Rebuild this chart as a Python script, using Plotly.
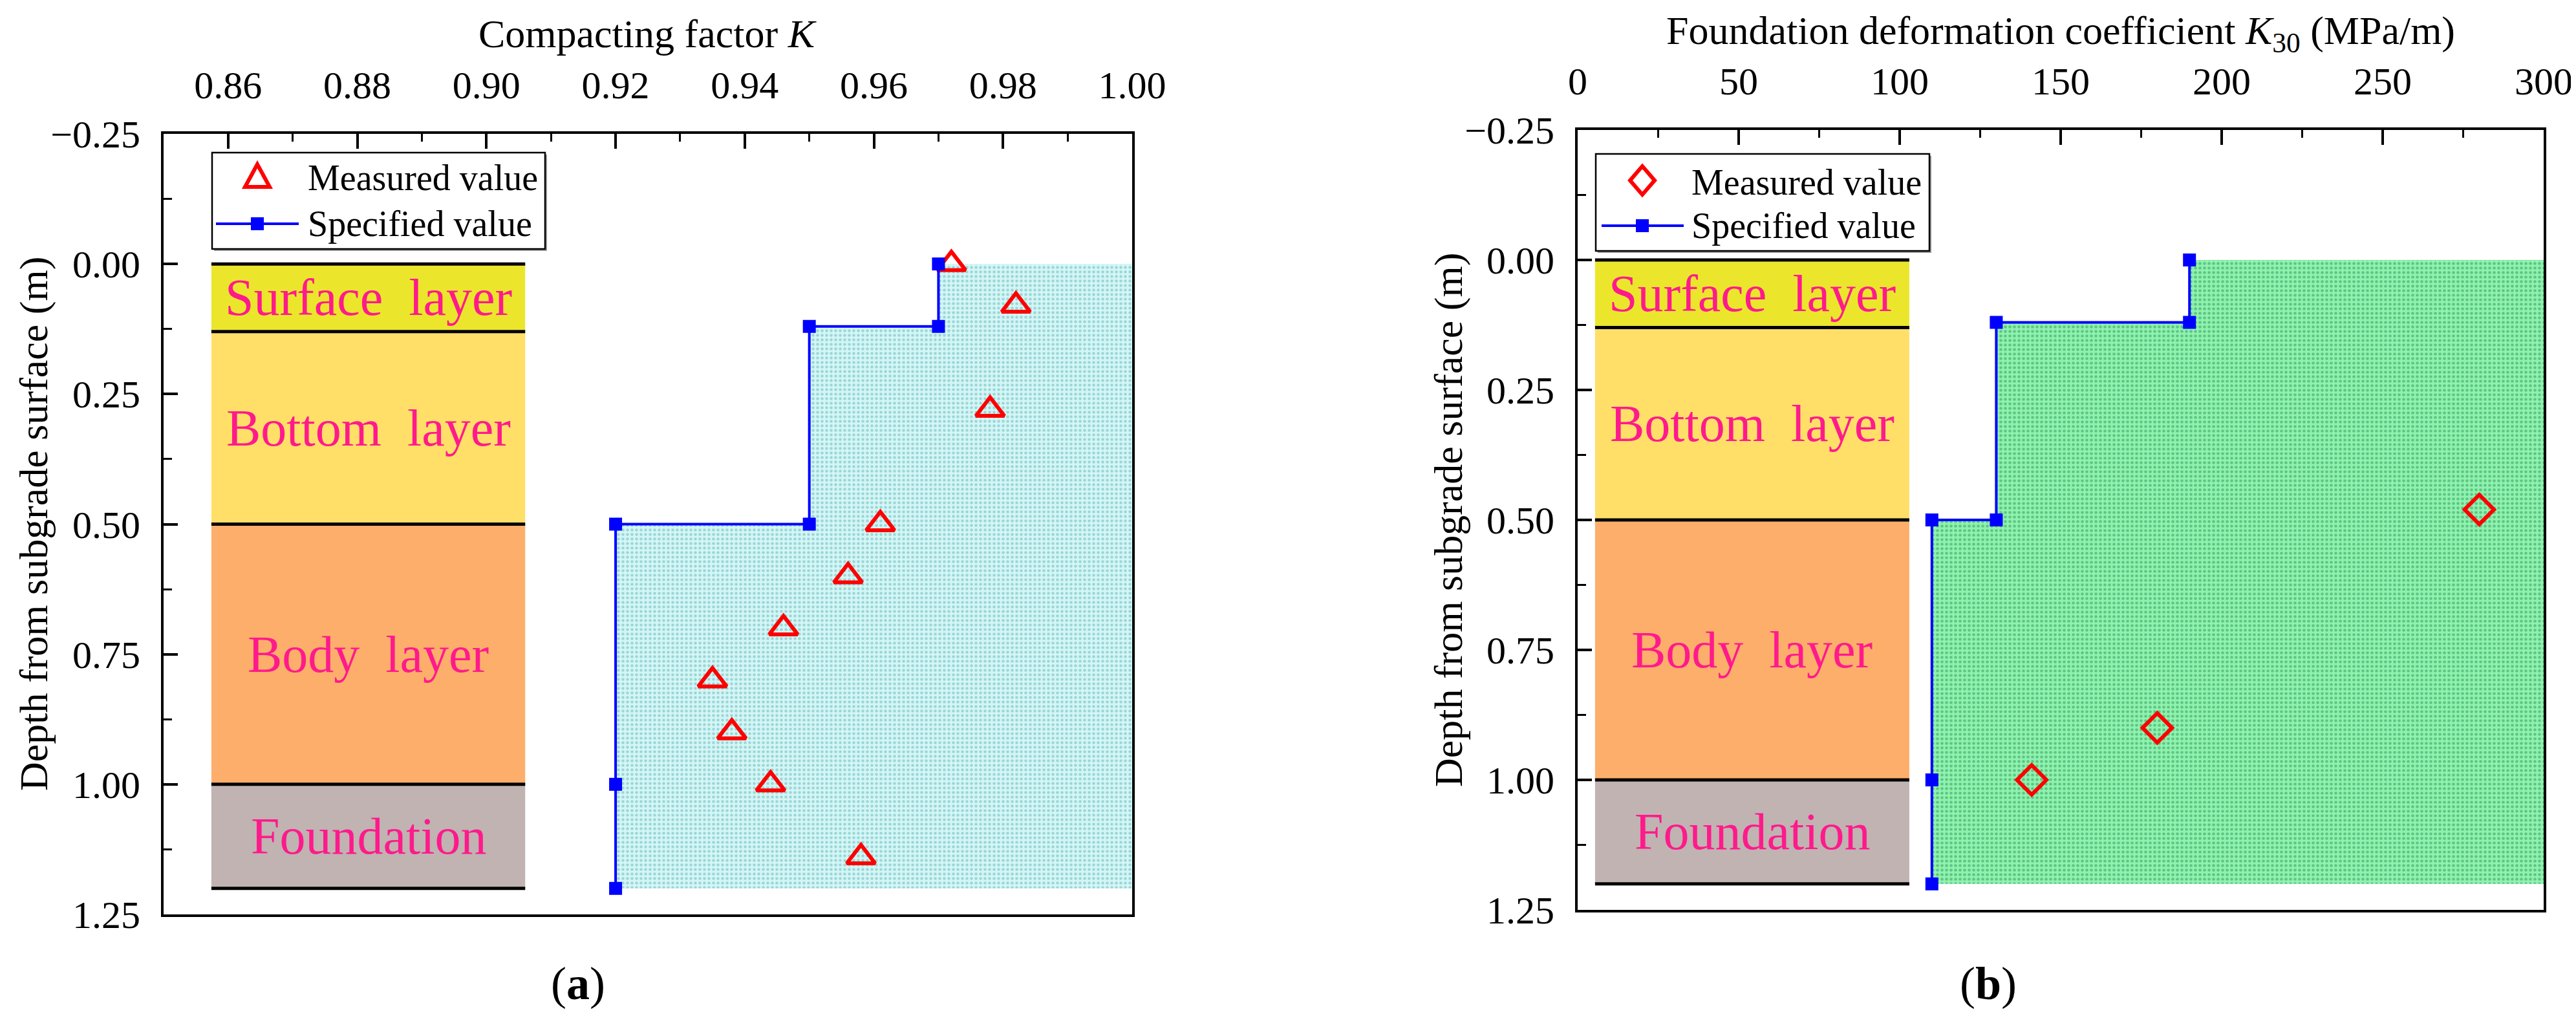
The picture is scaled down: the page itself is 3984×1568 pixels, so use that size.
import plotly.graph_objects as go

# ---------------- data ----------------
layer_names = ["Surface&nbsp; layer", "Bottom&nbsp; layer", "Body&nbsp; layer", "Foundation"]
layer_top = [0.00, 0.13, 0.50, 1.00]
layer_bottom = [0.13, 0.50, 1.00, 1.20]
layer_colors = ["#EBE62B", "#FFDF68", "#FDAE6B", "#C0B3B1"]

k_depth = [0.00, 0.08, 0.28, 0.50, 0.60, 0.70, 0.80, 0.90, 1.00, 1.14]
k_measured = [0.972, 0.982, 0.978, 0.961, 0.956, 0.946, 0.935, 0.938, 0.944, 0.958]
k_spec_depth = [0.00, 0.12, 0.12, 0.50, 0.50, 1.00, 1.20]
k_spec = [0.97, 0.97, 0.95, 0.95, 0.92, 0.92, 0.92]

k30_depth = [0.48, 0.90, 1.00]
k30_measured = [280, 180, 141]
k30_spec_depth = [0.00, 0.12, 0.12, 0.50, 0.50, 1.00, 1.20]
k30_spec = [190, 190, 130, 130, 110, 110, 110]

k_ticks = [0.86, 0.88, 0.90, 0.92, 0.94, 0.96, 0.98, 1.00]
k_ticktext = ["0.86", "0.88", "0.90", "0.92", "0.94", "0.96", "0.98", "1.00"]
k30_ticks = [0, 50, 100, 150, 200, 250, 300]
k30_ticktext = ["0", "50", "100", "150", "200", "250", "300"]
depth_ticks = [-0.25, 0.00, 0.25, 0.50, 0.75, 1.00, 1.25]
depth_ticktext = ["\u22120.25", "0.00", "0.25", "0.50", "0.75", "1.00", "1.25"]
legend_labels = ["Measured value", "Specified value"]

K_RANGE = [0.85, 1.00]
K30_RANGE = [0, 300]
DEPTH_RANGE = [1.25, -0.25]

FONT = "Liberation Serif"
W, H = 3984, 1568
RED, BLUE = "#FF0000", "#0000FF"


def px(x, y):
    """pixel position (from top-left) -> paper coordinates"""
    return x / W, 1 - y / H


fig = go.Figure()

# ---------- panel (a) ----------
fig.add_trace(go.Scatter(
    x=k_spec + [K_RANGE[1], K_RANGE[1]],
    y=k_spec_depth + [k_spec_depth[-1], k_spec_depth[0]],
    fill="toself", mode="lines", line=dict(width=0),
    fillcolor="#D4F6F6",
    fillpattern=dict(shape=".", bgcolor="#D4F6F6", fgcolor="#9CD6D6", size=7, solidity=0.33),
    showlegend=False, hoverinfo="skip", xaxis="x", yaxis="y"))
fig.add_trace(go.Scatter(
    x=k_measured, y=k_depth, mode="markers", name=legend_labels[0],
    marker=dict(symbol="triangle-up-open", size=38, color=RED, line=dict(width=6, color=RED)),
    xaxis="x", yaxis="y", showlegend=False))
fig.add_trace(go.Scatter(
    x=k_spec, y=k_spec_depth, mode="lines+markers", name=legend_labels[1],
    line=dict(color=BLUE, width=4),
    marker=dict(symbol="square", size=20, color=BLUE),
    xaxis="x", yaxis="y", showlegend=False))

# ---------- panel (b) ----------
fig.add_trace(go.Scatter(
    x=k30_spec + [K30_RANGE[1], K30_RANGE[1]],
    y=k30_spec_depth + [k30_spec_depth[-1], k30_spec_depth[0]],
    fill="toself", mode="lines", line=dict(width=0),
    fillcolor="#8FF3AF",
    fillpattern=dict(shape=".", bgcolor="#8FF3AF", fgcolor="#5EC583", size=7, solidity=0.35),
    showlegend=False, hoverinfo="skip", xaxis="x2", yaxis="y2"))
fig.add_trace(go.Scatter(
    x=k30_measured, y=k30_depth, mode="markers", name=legend_labels[0],
    marker=dict(symbol="diamond-open", size=35, color=RED, line=dict(width=6, color=RED)),
    xaxis="x2", yaxis="y2", showlegend=False))
fig.add_trace(go.Scatter(
    x=k30_spec, y=k30_spec_depth, mode="lines+markers", name=legend_labels[1],
    line=dict(color=BLUE, width=4),
    marker=dict(symbol="square", size=20, color=BLUE),
    xaxis="x2", yaxis="y2", showlegend=False))

# ---------- layer columns ----------
shapes = []
annotations = []
box_x = {"x": (0.8574, 0.906), "x2": (5.4, 103.0)}
for xr, yr in (("x", "y"), ("x2", "y2")):
    x0, x1 = box_x[xr]
    for name, top, bot, col in zip(layer_names, layer_top, layer_bottom, layer_colors):
        shapes.append(dict(type="rect", xref=xr, yref=yr, x0=x0, x1=x1, y0=top, y1=bot,
                           fillcolor=col, line=dict(width=0), layer="below"))
        annotations.append(dict(xref=xr, yref=yr, x=(x0 + x1) / 2, y=(top + bot) / 2,
                                xanchor="center", yanchor="middle",
                                text=name, showarrow=False,
                                font=dict(family=FONT, size=80, color="#FF1A8C")))
    for d in layer_top + [layer_bottom[-1]]:
        shapes.append(dict(type="line", xref=xr, yref=yr, x0=x0, x1=x1, y0=d, y1=d,
                           line=dict(color="black", width=5)))


# ---------- hand-drawn legends (so that symbols keep their plotted size) ----------
def legend_box(left, top, right, bottom, cx, y1, y2, line_x0, line_x1, text_x, symbol):
    bx0, by1 = px(left, top)
    bx1, by0 = px(right, bottom)
    shapes.append(dict(type="rect", xref="paper", yref="paper", x0=bx0 + 3 / W, x1=bx1 + 3 / W,
                       y0=by0 - 3 / H, y1=by1 - 3 / H, fillcolor="#9A9A9A", line=dict(width=0)))
    shapes.append(dict(type="rect", xref="paper", yref="paper", x0=bx0, x1=bx1, y0=by0, y1=by1,
                       fillcolor="white", line=dict(color="black", width=2.5)))
    if symbol == "triangle":
        path = "M {} {} L {} {} L {} {} Z".format(
            *px(cx - 19, y1 + 17), *px(cx + 19, y1 + 17), *px(cx, y1 - 18))
    else:
        path = "M {} {} L {} {} L {} {} L {} {} Z".format(
            *px(cx, y1 - 22), *px(cx + 19, y1), *px(cx, y1 + 22), *px(cx - 19, y1))
    shapes.append(dict(type="path", xref="paper", yref="paper", path=path,
                       line=dict(color=RED, width=6), fillcolor="white"))
    lx0, ly = px(line_x0, y2)
    lx1, _ = px(line_x1, y2)
    shapes.append(dict(type="line", xref="paper", yref="paper", x0=lx0, x1=lx1, y0=ly, y1=ly,
                       line=dict(color=BLUE, width=4)))
    sx0, sy1 = px(cx - 10, y2 - 10)
    sx1, sy0 = px(cx + 10, y2 + 10)
    shapes.append(dict(type="rect", xref="paper", yref="paper", x0=sx0, x1=sx1, y0=sy0, y1=sy1,
                       fillcolor=BLUE, line=dict(width=0)))
    for lab, yy in zip(legend_labels, (y1 + 3, y2)):
        tx, ty = px(text_x, yy)
        annotations.append(dict(xref="paper", yref="paper", x=tx, y=ty, xanchor="left",
                                yanchor="middle", text=lab, showarrow=False,
                                font=dict(family=FONT, size=56, color="black")))


legend_box(320, 228, 835, 377, 390, 264, 338, 326, 454, 466, "triangle")
legend_box(2460, 230, 2976, 380, 2532, 271, 341, 2469, 2596, 2606, "diamond")

# ---------- titles ----------
title_font = dict(family=FONT, size=62, color="black")
for text, (x, y), ang in (
        ("Compacting factor <i>K</i>", (994, 44), 0),
        ("Foundation deformation coefficient <i>K</i><sub>30</sub> (MPa/m)", (3179, 44), 0),
        ("Depth from subgrade surface (m)", (44, 802), -90),
        ("Depth from subgrade surface (m)", (2232, 796), -90)):
    xx, yy = px(x, y)
    annotations.append(dict(xref="paper", yref="paper", x=xx, y=yy, text=text, textangle=ang,
                            xanchor="center", yanchor="middle",
                            showarrow=False, font=title_font))
for text, (x, y) in (("(<b>a</b>)", (886, 1513)), ("(<b>b</b>)", (3067, 1513))):
    xx, yy = px(x, y)
    annotations.append(dict(xref="paper", yref="paper", x=xx, y=yy, text=text, showarrow=False,
                            xanchor="center", yanchor="middle",
                            font=dict(family=FONT, size=72, color="black")))

tickfont = dict(family=FONT, size=60, color="black")
common = dict(showline=True, linewidth=4, linecolor="black", mirror=True, showgrid=False,
              zeroline=False, ticks="inside", tickwidth=4, tickcolor="black", tickfont=tickfont,
              automargin=False)
minor_common = dict(ticks="inside", tickwidth=3, tickcolor="black")

fig.update_layout(
    template="none",
    width=W, height=H, margin=dict(l=0, r=0, t=0, b=0, pad=0), autosize=False,
    paper_bgcolor="white", plot_bgcolor="white", showlegend=False,
    font=dict(family=FONT, color="black"),
    shapes=shapes, annotations=annotations,
    xaxis=dict(domain=[245 / W, 1743 / W], anchor="y", side="top", range=K_RANGE,
               tickmode="array", tickvals=k_ticks, ticktext=k_ticktext, ticklen=23,
               ticklabelstandoff=27,
               minor=dict(dtick=0.01, tick0=0.85, ticklen=12, **minor_common), **common),
    yaxis=dict(domain=[1 - 1406 / H, 1 - 199 / H], anchor="x", range=DEPTH_RANGE,
               tickmode="array", tickvals=depth_ticks, ticktext=depth_ticktext, ticklen=22,
               ticklabelstandoff=20,
               minor=dict(dtick=0.125, tick0=-0.25, ticklen=13, **minor_common), **common),
    xaxis2=dict(domain=[2432 / W, 3926 / W], anchor="y2", side="top", range=K30_RANGE,
                tickmode="array", tickvals=k30_ticks, ticktext=k30_ticktext, ticklen=23,
                ticklabelstandoff=27,
                minor=dict(dtick=25, tick0=0, ticklen=12, **minor_common), **common),
    yaxis2=dict(domain=[1 - 1399 / H, 1 - 193 / H], anchor="x2", range=DEPTH_RANGE,
                tickmode="array", tickvals=depth_ticks, ticktext=depth_ticktext, ticklen=22,
                ticklabelstandoff=20,
                minor=dict(dtick=0.125, tick0=-0.25, ticklen=13, **minor_common), **common),
)

fig.write_html("out.html")
